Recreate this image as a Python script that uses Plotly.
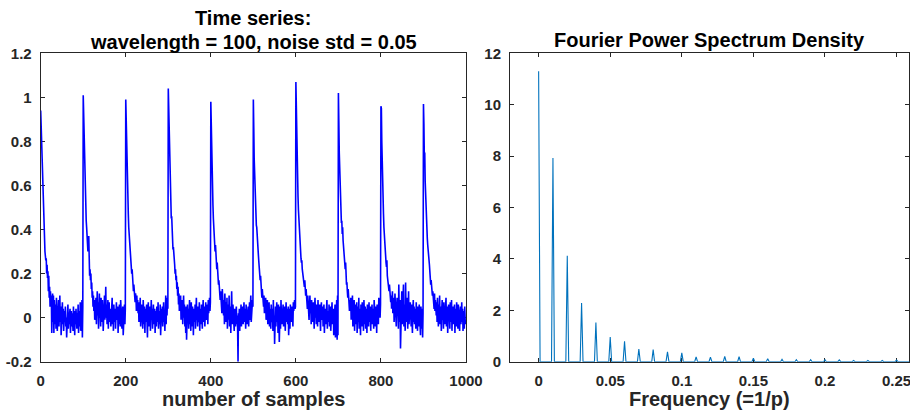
import plotly.graph_objects as go

# ---------------- time series (one list per wavelength of 100 samples) ----------------
period_0 = [
    0.94, 0.87, 0.76, 0.68, 0.61, 0.54, 0.47, 0.43, 0.39, 0.35,
    0.30, 0.28, 0.26, 0.27, 0.20, 0.24, 0.18, 0.21, 0.12, 0.19,
    0.09, 0.14, 0.05, 0.12, 0.06, 0.10, -0.07, 0.04, 0.11, -0.02,
    0.10, -0.07, 0.08, 0.01, -0.03, 0.06, -0.05, 0.09, 0.02, -0.06,
    0.04, -0.01, 0.08, -0.04, 0.03, 0.10, -0.02, 0.05, -0.08, 0.02,
    0.00, 0.07, -0.03, 0.04, -0.06, 0.01, 0.03, -0.01, 0.05, -0.04,
    0.00, -0.09, 0.03, -0.02, 0.06, -0.05, 0.01, -0.03, 0.02, 0.04,
    -0.07, 0.00, 0.03, -0.04, 0.02, -0.01, -0.06, 0.05, -0.02, 0.01,
    -0.08, 0.03, -0.03, 0.04, 0.00, -0.05, 0.02, -0.02, 0.06, -0.07,
    0.01, 0.03, -0.04, 0.07, -0.06, 0.02, -0.01, 0.08, -0.09, 0.05,
]
period_1 = [
    1.01, 0.92, 0.78, 0.70, 0.64, 0.55, 0.50, 0.44, 0.41, 0.36,
    0.33, 0.30, 0.36, 0.37, 0.28, 0.19, 0.22, 0.17, 0.20, 0.13,
    0.16, 0.09, 0.12, 0.05, 0.10, 0.03, 0.08, -0.01, 0.06, 0.02,
    0.09, -0.03, 0.05, 0.12, 0.01, 0.07, -0.05, 0.04, 0.11, 0.00,
    0.06, -0.04, 0.09, 0.02, -0.02, 0.08, 0.03, -0.06, 0.05, 0.01,
    0.10, -0.01, 0.04, 0.14, 0.00, 0.06, -0.03, 0.03, 0.08, -0.05,
    0.02, 0.07, -0.02, 0.04, 0.01, -0.04, 0.05, 0.00, 0.09, -0.03,
    0.03, -0.06, 0.06, 0.01, -0.02, 0.04, -0.05, 0.02, 0.07, -0.01,
    0.00, 0.05, -0.07, 0.03, -0.03, 0.06, 0.01, -0.04, 0.08, -0.02,
    0.04, -0.05, 0.02, 0.05, -0.08, 0.03, -0.01, 0.06, -0.03, 0.04,
]
period_2 = [
    0.99, 0.88, 0.73, 0.72, 0.60, 0.52, 0.47, 0.41, 0.38, 0.39,
    0.33, 0.29, 0.25, 0.27, 0.20, 0.22, 0.16, 0.19, 0.12, 0.15,
    0.10, 0.13, 0.07, 0.11, 0.09, 0.03, 0.10, 0.05, 0.08, 0.02,
    0.07, -0.02, 0.05, 0.01, 0.09, -0.04, 0.03, 0.06, -0.01, 0.04,
    -0.05, 0.08, 0.00, -0.03, 0.05, -0.07, 0.02, 0.04, -0.02, 0.06,
    0.01, -0.09, 0.03, 0.07, -0.04, 0.02, 0.00, 0.05, -0.06, 0.03,
    0.08, -0.01, 0.04, -0.05, 0.02, 0.06, -0.03, 0.01, 0.04, -0.07,
    0.03, 0.00, -0.04, 0.05, 0.02, -0.02, 0.07, -0.05, 0.01, 0.03,
    -0.03, 0.06, -0.08, 0.02, 0.04, -0.01, 0.05, -0.04, 0.00, 0.07,
    -0.02, 0.03, -0.06, 0.05, 0.10, -0.03, 0.09, 0.01, 0.08, 0.04,
]
period_3 = [
    1.04, 0.95, 0.79, 0.74, 0.67, 0.57, 0.52, 0.45, 0.46, 0.38,
    0.37, 0.31, 0.32, 0.26, 0.29, 0.24, 0.20, 0.22, 0.17, 0.19,
    0.13, 0.16, 0.10, 0.14, 0.06, 0.11, 0.03, 0.09, 0.05, 0.10,
    -0.01, 0.07, 0.02, 0.08, -0.03, 0.04, 0.10, 0.00, 0.06, -0.04,
    0.03, -0.07, 0.05, -0.10, 0.02, 0.06, -0.02, 0.04, -0.05, 0.01,
    0.08, -0.03, 0.03, -0.06, 0.07, 0.00, -0.04, 0.05, 0.02, -0.08,
    0.04, 0.01, -0.02, 0.06, -0.05, 0.03, 0.09, -0.01, 0.02, -0.04,
    0.05, -0.02, 0.00, 0.07, -0.06, 0.02, 0.04, -0.03, 0.06, 0.01,
    -0.05, 0.03, 0.08, -0.02, 0.01, 0.05, -0.04, 0.02, 0.07, -0.01,
    0.04, 0.00, 0.06, -0.03, 0.08, 0.02, 0.05, 0.09, 0.03, 0.07,
]
period_4 = [
    0.98, 0.84, 0.76, 0.63, 0.56, 0.51, 0.45, 0.40, 0.42, 0.35,
    0.30, 0.33, 0.27, 0.29, 0.22, 0.25, 0.18, 0.20, 0.15, 0.17,
    0.11, 0.15, 0.08, 0.12, 0.05, 0.10, 0.02, 0.13, 0.06, 0.09,
    0.01, 0.08, -0.03, 0.11, 0.04, -0.02, 0.07, 0.00, 0.09, -0.05,
    0.03, 0.06, -0.01, 0.10, -0.04, 0.02, 0.05, -0.07, 0.04, 0.12,
    0.01, -0.03, 0.06, -0.02, 0.03, -0.06, 0.04, 0.00, -0.04, 0.02,
    0.05, -0.03, 0.01, -0.05, -0.20, 0.02, -0.02, 0.04, -0.06, 0.03,
    0.00, 0.06, -0.04, 0.02, -0.01, 0.05, -0.03, 0.03, 0.07, -0.02,
    0.04, 0.01, -0.05, 0.06, 0.02, -0.03, 0.03, 0.00, 0.05, -0.04,
    0.02, 0.07, -0.01, 0.04, 0.10, -0.02, 0.06, 0.03, 0.08, 0.05,
]
period_5 = [
    0.99, 0.86, 0.72, 0.66, 0.58, 0.48, 0.46, 0.42, 0.41, 0.36,
    0.34, 0.32, 0.28, 0.25, 0.21, 0.23, 0.17, 0.19, 0.12, 0.15,
    0.09, 0.13, 0.07, 0.11, 0.05, 0.10, 0.02, 0.08, 0.04, 0.09,
    -0.01, 0.06, 0.03, 0.08, -0.03, 0.05, 0.01, 0.07, -0.04, 0.04,
    0.02, -0.05, 0.06, 0.00, -0.02, 0.04, -0.06, 0.08, -0.03, 0.01,
    -0.12, 0.03, 0.05, -0.04, 0.02, 0.07, -0.02, 0.04, -0.07, 0.06,
    0.00, -0.11, 0.03, 0.05, -0.05, 0.08, 0.01, -0.03, 0.04, -0.01,
    0.06, -0.04, 0.02, 0.00, 0.05, -0.06, 0.03, 0.07, -0.02, 0.04,
    0.01, -0.03, 0.05, -0.08, 0.02, 0.04, -0.05, 0.06, 0.00, 0.03,
    -0.02, 0.05, 0.01, -0.04, 0.07, 0.03, 0.06, 0.08, 0.04, 0.05,
]
period_6 = [
    1.07, 0.93, 0.76, 0.70, 0.62, 0.55, 0.49, 0.44, 0.40, 0.37,
    0.34, 0.30, 0.27, 0.25, 0.26, 0.22, 0.20, 0.18, 0.19, 0.16,
    0.14, 0.17, 0.12, 0.10, 0.13, 0.06, 0.09, 0.04, 0.10, 0.02,
    0.07, -0.01, 0.05, 0.10, 0.02, 0.06, -0.03, 0.08, 0.01, 0.04,
    -0.02, 0.07, 0.03, -0.05, 0.05, 0.09, 0.00, 0.04, -0.03, 0.06,
    0.02, -0.04, 0.08, 0.01, 0.03, -0.02, 0.06, 0.00, -0.06, 0.04,
    0.07, -0.01, 0.03, 0.05, -0.04, 0.02, 0.06, -0.07, 0.01, 0.04,
    -0.03, 0.05, 0.00, 0.08, -0.05, 0.03, 0.01, -0.02, 0.06, -0.04,
    0.02, 0.05, -0.06, 0.03, -0.01, 0.07, -0.03, 0.02, 0.04, -0.08,
    0.01, -0.05, 0.06, -0.09, 0.03, -0.02, 0.08, -0.10, 0.10, -0.08,
]
period_7 = [
    1.02, 0.89, 0.75, 0.68, 0.60, 0.53, 0.47, 0.43, 0.44, 0.38,
    0.41, 0.35, 0.33, 0.30, 0.27, 0.24, 0.22, 0.25, 0.18, 0.15,
    0.16, 0.12, 0.09, 0.13, 0.06, 0.10, 0.03, 0.08, 0.05, 0.09,
    -0.01, 0.07, 0.02, 0.10, -0.04, 0.05, 0.01, 0.08, -0.06, 0.04,
    0.06, -0.03, 0.03, 0.07, -0.07, 0.02, 0.05, -0.02, 0.09, -0.05,
    0.04, 0.00, -0.08, 0.06, 0.02, -0.04, 0.07, -0.01, 0.03, -0.06,
    0.08, 0.01, -0.03, 0.05, -0.05, 0.02, 0.04, -0.07, 0.06, 0.00,
    0.03, -0.04, 0.07, -0.02, 0.02, 0.05, -0.06, 0.03, -0.01, 0.06,
    -0.03, 0.04, 0.01, -0.05, 0.08, 0.00, 0.03, -0.04, 0.05, 0.02,
    -0.07, 0.06, 0.01, 0.04, -0.03, 0.09, 0.02, 0.07, 0.00, 0.06,
]
period_8 = [
    0.96, 0.95, 0.80, 0.66, 0.57, 0.48, 0.47, 0.41, 0.37, 0.32,
    0.34, 0.28, 0.25, 0.23, 0.26, 0.19, 0.16, 0.18, 0.14, 0.12,
    0.15, 0.09, 0.11, 0.07, 0.10, 0.04, 0.08, 0.12, 0.02, 0.06,
    0.09, -0.02, 0.05, 0.11, 0.00, 0.07, -0.04, 0.04, 0.09, 0.01,
    0.06, -0.05, 0.15, 0.03, -0.02, 0.08, -0.14, 0.05, 0.01, 0.12,
    -0.03, 0.07, 0.02, 0.15, -0.04, 0.06, 0.00, -0.06, 0.16, 0.03,
    -0.02, 0.09, 0.01, -0.05, 0.05, 0.12, -0.03, 0.04, -0.01, 0.07,
    0.02, -0.04, 0.06, 0.00, -0.07, 0.03, 0.08, -0.02, 0.05, -0.03,
    0.04, 0.01, -0.05, 0.07, -0.01, 0.03, -0.06, 0.05, 0.02, -0.04,
    0.06, -0.02, 0.03, -0.08, 0.05, 0.00, -0.05, 0.04, -0.09, 0.02,
]
period_9 = [
    0.97, 0.88, 0.73, 0.75, 0.62, 0.55, 0.50, 0.43, 0.40, 0.36,
    0.33, 0.29, 0.31, 0.26, 0.24, 0.21, 0.19, 0.15, 0.17, 0.13,
    0.14, 0.10, 0.12, 0.07, 0.09, 0.04, 0.11, 0.03, 0.08, 0.05,
    0.01, 0.07, -0.02, 0.09, 0.03, -0.04, 0.06, 0.00, 0.10, -0.03,
    0.05, 0.02, -0.06, 0.04, 0.08, -0.01, 0.03, -0.05, 0.07, 0.01,
    -0.03, 0.06, 0.00, 0.09, -0.04, 0.03, 0.05, -0.07, 0.02, 0.06,
    -0.01, 0.04, -0.05, 0.07, 0.01, -0.02, 0.08, -0.06, 0.03, 0.00,
    0.05, -0.03, 0.02, 0.06, -0.07, 0.04, 0.01, -0.04, 0.07, -0.01,
    0.03, -0.05, 0.06, 0.00, 0.04, -0.06, 0.02, 0.05, -0.03, 0.01,
    0.07, -0.02, 0.04, -0.06, 0.03, 0.00, -0.05, 0.05, -0.01, -0.03,
]

# ---------------- power spectrum (harmonic peaks of the 1/100 wavelength) ----------------
peak_freqs = [0.00, 0.01, 0.02, 0.03, 0.04, 0.05, 0.06, 0.07, 0.08, 0.09,
              0.10, 0.11, 0.12, 0.13, 0.14, 0.15, 0.16, 0.17, 0.18, 0.19,
              0.20, 0.21, 0.22, 0.23, 0.24, 0.25]
peak_power = [11.30, 7.93, 4.12, 2.28, 1.52, 0.96, 0.79, 0.49, 0.47, 0.38,
              0.34, 0.19, 0.18, 0.21, 0.20, 0.14, 0.12, 0.09, 0.08, 0.08,
              0.08, 0.07, 0.05, 0.05, 0.05, 0.06]
freq_bin = 0.001          # frequency resolution of the spectrum (1/1000 samples)
nyquist = 0.5
floor_power = 0.0         # power between harmonics

# ---------------- tick labels ----------------
ts_xticks = [0, 200, 400, 600, 800, 1000]
ts_yticks = [-0.2, 0, 0.2, 0.4, 0.6, 0.8, 1, 1.2]
ts_ytick_text = ["-0.2", "0", "0.2", "0.4", "0.6", "0.8", "1", "1.2"]
ps_xticks = [0, 0.05, 0.1, 0.15, 0.2, 0.25]
ps_xtick_text = ["0", "0.05", "0.1", "0.15", "0.2", "0.25"]
ps_yticks = [0, 2, 4, 6, 8, 10, 12]

# ---------------- build traces ----------------
series = (period_0 + period_1 + period_2 + period_3 + period_4 +
          period_5 + period_6 + period_7 + period_8 + period_9)
samples = list(range(len(series)))

spec_x, spec_y = [], []
for f, p in zip(peak_freqs, peak_power):
    if f > 0:
        spec_x.append(f - freq_bin)
        spec_y.append(floor_power)
    spec_x.append(f)
    spec_y.append(p)
    spec_x.append(f + freq_bin)
    spec_y.append(floor_power)
spec_x.append(nyquist)
spec_y.append(floor_power)

FONT = "Liberation Sans, Arial, Helvetica, sans-serif"
AXC = "#262626"
W, H = 910, 415   # browser window size; figure autosizes to it

fig = go.Figure()
fig.add_trace(go.Scatter(x=samples, y=series, mode="lines",
                         line=dict(color="#0000FF", width=1.6),
                         xaxis="x", yaxis="y", showlegend=False, hoverinfo="skip"))
fig.add_trace(go.Scatter(x=spec_x, y=spec_y, mode="lines",
                         line=dict(color="#0072BD", width=1.1),
                         xaxis="x2", yaxis="y2", showlegend=False, hoverinfo="skip"))

ydom = [(H - 361.7) / H, (H - 53.3) / H]
xdom1 = [40.7 / W, 466.0 / W]
xdom2 = [510.0 / W, 909.3 / W]

tickfont = dict(family=FONT, size=15, color=AXC, weight="bold")
common = dict(showgrid=False, zeroline=False, showline=True, linecolor=AXC,
              linewidth=1, mirror="ticks", ticks="inside", ticklen=4,
              tickcolor=AXC, tickwidth=1, tickfont=tickfont, layer="below traces",
              automargin=False, ticklabeloverflow="allow")

fig.update_layout(
    autosize=True, margin=dict(l=0, r=0, t=0, b=0, pad=0),
    paper_bgcolor="white", plot_bgcolor="white",
    xaxis=dict(domain=xdom1, range=[0, 1000], tickvals=ts_xticks,
               anchor="y", ticklabelstandoff=5, **common),
    yaxis=dict(domain=ydom, range=[-0.2, 1.2], tickvals=ts_yticks,
               ticktext=ts_ytick_text, anchor="x", ticklabelstandoff=5, **common),
    xaxis2=dict(domain=xdom2, range=[-0.02, 0.2589], tickvals=ps_xticks,
                ticktext=ps_xtick_text, anchor="y2", ticklabelstandoff=5, **common),
    yaxis2=dict(domain=ydom, range=[0, 12], tickvals=ps_yticks,
                anchor="x2", ticklabelstandoff=5, **common),
)

tfont = dict(family=FONT, size=20, color="black", weight="bold")
lfont = dict(family=FONT, size=20, color=AXC, weight="bold")
c1 = (xdom1[0] + xdom1[1]) / 2
c2 = (xdom2[0] + xdom2[1]) / 2
ann = [
    dict(text="Time series:", x=c1, y=(H - 18) / H, font=tfont),
    dict(text="wavelength = 100, noise std = 0.05", x=c1, y=(H - 42) / H, font=tfont),
    dict(text="Fourier Power Spectrum Density", x=c2, y=(H - 40) / H, font=tfont),
    dict(text="number of samples", x=c1, y=(H - 398.7) / H, font=lfont),
    dict(text="Frequency (=1/p)", x=c2, y=(H - 398.7) / H, font=lfont),
]
for a in ann:
    fig.add_annotation(xref="paper", yref="paper", showarrow=False,
                       xanchor="center", yanchor="middle", **a)

fig.write_html("out.html")
